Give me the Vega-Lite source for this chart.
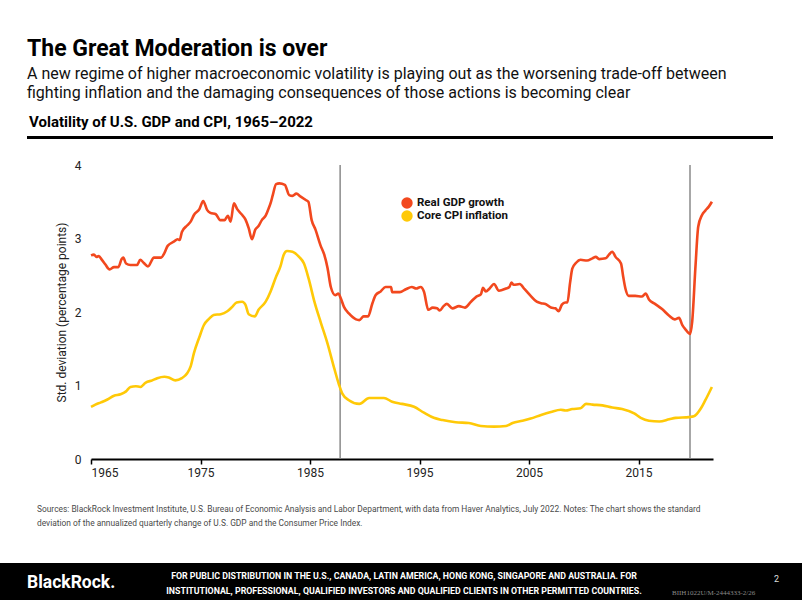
{
  "$schema": "https://vega.github.io/schema/vega-lite/v6.json",
  "background": "white",
  "padding": {"left": 0, "right": 0, "top": 38, "bottom": 0},
  "config": {
    "view": {"stroke": null},
    "font": "Roboto",
    "axis": {"labelFont": "Roboto", "titleFont": "Roboto"},
    "legend": {"labelFont": "Roboto"},
    "title": {"font": "Roboto", "subtitleFont": "Roboto"}
  },
  "title": {
    "text": "The Great Moderation is over",
    "subtitle": ["A new regime of higher macroeconomic volatility is playing out as the worsening trade-off between", "fighting inflation and the damaging consequences of those actions is becoming clear"],
    "anchor": "start",
    "dx": 27,
    "fontSize": 23,
    "fontWeight": "bold",
    "color": "#000",
    "subtitleFontSize": 16,
    "subtitleColor": "#111",
    "subtitleLineHeight": 19,
    "subtitlePadding": 5,
    "offset": 14
  },
  "spacing": 0,
  "vconcat": [
    {
      "spacing": 0,
      "hconcat": [
        {"width": 27, "height": 3, "data": {"values": []}, "mark": "point"},
        {
          "width": 746, "height": 3,
          "view": {"fill": "#000", "stroke": null},
          "data": {"values": []}, "mark": "point",
          "title": {"text": "Volatility of U.S. GDP and CPI, 1965–2022", "anchor": "start", "frame": "group", "dx": 2, "fontSize": 15, "fontWeight": "bold", "color": "#000", "offset": 6}
        }
      ]
    },
    {"width": 1, "height": 20, "data": {"values": []}, "mark": "point"},
    {
      "spacing": 0,
      "hconcat": [
        {"width": 55, "height": 10, "data": {"values": []}, "mark": "point"},
        {
          "width": 622, "height": 294,
          "layer": [
            {
              "data": {"values": [{"event": "Oct 1987", "year": 1987.75}, {"event": "2019", "year": 2019.7}]},
              "mark": {"type": "rule", "color": "#8a8a8a", "strokeWidth": 1.5},
              "encoding": {"x": {"field": "year", "type": "quantitative", "scale": {"domain": [1965, 2021.8], "nice": false, "zero": false}}}
            },
            {
              "data": {"values": [
{"series":"Real GDP growth","year":1965.0,"value":2.77},{"series":"Real GDP growth","year":1965.27,"value":2.78},{"series":"Real GDP growth","year":1965.5,"value":2.75},{"series":"Real GDP growth","year":1965.7,"value":2.76},{"series":"Real GDP growth","year":1966.0,"value":2.71},{"series":"Real GDP growth","year":1966.3,"value":2.65},{"series":"Real GDP growth","year":1966.7,"value":2.58},{"series":"Real GDP growth","year":1967.1,"value":2.61},{"series":"Real GDP growth","year":1967.5,"value":2.61},{"series":"Real GDP growth","year":1967.8,"value":2.72},{"series":"Real GDP growth","year":1967.95,"value":2.74},{"series":"Real GDP growth","year":1968.2,"value":2.66},{"series":"Real GDP growth","year":1968.6,"value":2.64},{"series":"Real GDP growth","year":1969.2,"value":2.64},{"series":"Real GDP growth","year":1969.5,"value":2.71},{"series":"Real GDP growth","year":1969.8,"value":2.67},{"series":"Real GDP growth","year":1970.2,"value":2.62},{"series":"Real GDP growth","year":1970.75,"value":2.74},{"series":"Real GDP growth","year":1971.4,"value":2.74},{"series":"Real GDP growth","year":1971.7,"value":2.80},{"series":"Real GDP growth","year":1972.0,"value":2.90},{"series":"Real GDP growth","year":1972.6,"value":2.96},{"series":"Real GDP growth","year":1972.9,"value":2.99},{"series":"Real GDP growth","year":1973.1,"value":2.98},{"series":"Real GDP growth","year":1973.3,"value":3.09},{"series":"Real GDP growth","year":1973.8,"value":3.18},{"series":"Real GDP growth","year":1974.1,"value":3.23},{"series":"Real GDP growth","year":1974.4,"value":3.32},{"series":"Real GDP growth","year":1974.9,"value":3.40},{"series":"Real GDP growth","year":1975.25,"value":3.51},{"series":"Real GDP growth","year":1975.6,"value":3.39},{"series":"Real GDP growth","year":1975.9,"value":3.35},{"series":"Real GDP growth","year":1976.4,"value":3.33},{"series":"Real GDP growth","year":1976.8,"value":3.25},{"series":"Real GDP growth","year":1977.2,"value":3.25},{"series":"Real GDP growth","year":1977.5,"value":3.31},{"series":"Real GDP growth","year":1977.75,"value":3.23},{"series":"Real GDP growth","year":1978.05,"value":3.48},{"series":"Real GDP growth","year":1978.35,"value":3.40},{"series":"Real GDP growth","year":1978.75,"value":3.33},{"series":"Real GDP growth","year":1979.1,"value":3.26},{"series":"Real GDP growth","year":1979.4,"value":3.14},{"series":"Real GDP growth","year":1979.7,"value":2.99},{"series":"Real GDP growth","year":1980.0,"value":3.12},{"series":"Real GDP growth","year":1980.3,"value":3.17},{"series":"Real GDP growth","year":1980.6,"value":3.25},{"series":"Real GDP growth","year":1980.95,"value":3.31},{"series":"Real GDP growth","year":1981.2,"value":3.40},{"series":"Real GDP growth","year":1981.4,"value":3.48},{"series":"Real GDP growth","year":1981.6,"value":3.59},{"series":"Real GDP growth","year":1981.9,"value":3.74},{"series":"Real GDP growth","year":1982.2,"value":3.75},{"series":"Real GDP growth","year":1982.7,"value":3.73},{"series":"Real GDP growth","year":1983.1,"value":3.59},{"series":"Real GDP growth","year":1983.4,"value":3.58},{"series":"Real GDP growth","year":1983.75,"value":3.61},{"series":"Real GDP growth","year":1984.15,"value":3.57},{"series":"Real GDP growth","year":1984.65,"value":3.52},{"series":"Real GDP growth","year":1984.85,"value":3.50},{"series":"Real GDP growth","year":1985.15,"value":3.25},{"series":"Real GDP growth","year":1985.5,"value":3.12},{"series":"Real GDP growth","year":1985.95,"value":2.91},{"series":"Real GDP growth","year":1986.3,"value":2.78},{"series":"Real GDP growth","year":1986.6,"value":2.60},{"series":"Real GDP growth","year":1986.9,"value":2.34},{"series":"Real GDP growth","year":1987.3,"value":2.23},{"series":"Real GDP growth","year":1987.6,"value":2.25},{"series":"Real GDP growth","year":1987.8,"value":2.19},{"series":"Real GDP growth","year":1988.1,"value":2.07},{"series":"Real GDP growth","year":1988.55,"value":1.98},{"series":"Real GDP growth","year":1989.2,"value":1.90},{"series":"Real GDP growth","year":1989.5,"value":1.89},{"series":"Real GDP growth","year":1989.9,"value":1.94},{"series":"Real GDP growth","year":1990.3,"value":1.94},{"series":"Real GDP growth","year":1990.7,"value":2.12},{"series":"Real GDP growth","year":1991.0,"value":2.23},{"series":"Real GDP growth","year":1991.45,"value":2.28},{"series":"Real GDP growth","year":1991.9,"value":2.34},{"series":"Real GDP growth","year":1992.4,"value":2.34},{"series":"Real GDP growth","year":1992.5,"value":2.27},{"series":"Real GDP growth","year":1993.2,"value":2.27},{"series":"Real GDP growth","year":1993.75,"value":2.31},{"series":"Real GDP growth","year":1994.3,"value":2.34},{"series":"Real GDP growth","year":1994.7,"value":2.32},{"series":"Real GDP growth","year":1995.1,"value":2.34},{"series":"Real GDP growth","year":1995.4,"value":2.28},{"series":"Real GDP growth","year":1995.8,"value":2.03},{"series":"Real GDP growth","year":1996.2,"value":2.06},{"series":"Real GDP growth","year":1996.6,"value":2.05},{"series":"Real GDP growth","year":1996.85,"value":2.02},{"series":"Real GDP growth","year":1997.2,"value":2.08},{"series":"Real GDP growth","year":1997.5,"value":2.11},{"series":"Real GDP growth","year":1998.0,"value":2.05},{"series":"Real GDP growth","year":1998.6,"value":2.08},{"series":"Real GDP growth","year":1999.15,"value":2.06},{"series":"Real GDP growth","year":1999.7,"value":2.14},{"series":"Real GDP growth","year":2000.2,"value":2.21},{"series":"Real GDP growth","year":2000.6,"value":2.24},{"series":"Real GDP growth","year":2000.8,"value":2.33},{"series":"Real GDP growth","year":2001.05,"value":2.28},{"series":"Real GDP growth","year":2001.4,"value":2.32},{"series":"Real GDP growth","year":2001.8,"value":2.38},{"series":"Real GDP growth","year":2002.25,"value":2.29},{"series":"Real GDP growth","year":2002.9,"value":2.32},{"series":"Real GDP growth","year":2003.2,"value":2.34},{"series":"Real GDP growth","year":2003.4,"value":2.40},{"series":"Real GDP growth","year":2003.6,"value":2.37},{"series":"Real GDP growth","year":2004.15,"value":2.38},{"series":"Real GDP growth","year":2004.6,"value":2.31},{"series":"Real GDP growth","year":2005.15,"value":2.22},{"series":"Real GDP growth","year":2005.7,"value":2.14},{"series":"Real GDP growth","year":2006.1,"value":2.12},{"series":"Real GDP growth","year":2006.5,"value":2.11},{"series":"Real GDP growth","year":2007.0,"value":2.06},{"series":"Real GDP growth","year":2007.4,"value":2.05},{"series":"Real GDP growth","year":2007.7,"value":2.01},{"series":"Real GDP growth","year":2008.0,"value":2.10},{"series":"Real GDP growth","year":2008.3,"value":2.13},{"series":"Real GDP growth","year":2008.5,"value":2.13},{"series":"Real GDP growth","year":2008.75,"value":2.40},{"series":"Real GDP growth","year":2008.95,"value":2.59},{"series":"Real GDP growth","year":2009.3,"value":2.67},{"series":"Real GDP growth","year":2009.7,"value":2.71},{"series":"Real GDP growth","year":2010.3,"value":2.70},{"series":"Real GDP growth","year":2010.8,"value":2.73},{"series":"Real GDP growth","year":2011.1,"value":2.75},{"series":"Real GDP growth","year":2011.4,"value":2.72},{"series":"Real GDP growth","year":2012.0,"value":2.73},{"series":"Real GDP growth","year":2012.3,"value":2.78},{"series":"Real GDP growth","year":2012.6,"value":2.82},{"series":"Real GDP growth","year":2012.9,"value":2.75},{"series":"Real GDP growth","year":2013.4,"value":2.66},{"series":"Real GDP growth","year":2013.6,"value":2.48},{"series":"Real GDP growth","year":2013.8,"value":2.32},{"series":"Real GDP growth","year":2014.1,"value":2.22},{"series":"Real GDP growth","year":2014.7,"value":2.22},{"series":"Real GDP growth","year":2015.3,"value":2.21},{"series":"Real GDP growth","year":2015.65,"value":2.25},{"series":"Real GDP growth","year":2015.95,"value":2.17},{"series":"Real GDP growth","year":2016.5,"value":2.11},{"series":"Real GDP growth","year":2017.15,"value":2.04},{"series":"Real GDP growth","year":2017.8,"value":1.95},{"series":"Real GDP growth","year":2018.3,"value":1.90},{"series":"Real GDP growth","year":2018.7,"value":1.92},{"series":"Real GDP growth","year":2019.0,"value":1.82},{"series":"Real GDP growth","year":2019.3,"value":1.76},{"series":"Real GDP growth","year":2019.7,"value":1.70},{"series":"Real GDP growth","year":2019.9,"value":1.87},{"series":"Real GDP growth","year":2020.2,"value":2.62},{"series":"Real GDP growth","year":2020.45,"value":3.16},{"series":"Real GDP growth","year":2020.8,"value":3.32},{"series":"Real GDP growth","year":2021.1,"value":3.38},{"series":"Real GDP growth","year":2021.4,"value":3.43},{"series":"Real GDP growth","year":2021.7,"value":3.50},
{"series":"Core CPI inflation","year":1965.0,"value":0.71},{"series":"Core CPI inflation","year":1965.4,"value":0.74},{"series":"Core CPI inflation","year":1965.9,"value":0.77},{"series":"Core CPI inflation","year":1966.5,"value":0.81},{"series":"Core CPI inflation","year":1967.1,"value":0.86},{"series":"Core CPI inflation","year":1967.7,"value":0.88},{"series":"Core CPI inflation","year":1968.2,"value":0.92},{"series":"Core CPI inflation","year":1968.6,"value":0.98},{"series":"Core CPI inflation","year":1969.1,"value":0.99},{"series":"Core CPI inflation","year":1969.5,"value":0.98},{"series":"Core CPI inflation","year":1970.0,"value":1.04},{"series":"Core CPI inflation","year":1970.6,"value":1.07},{"series":"Core CPI inflation","year":1971.05,"value":1.10},{"series":"Core CPI inflation","year":1971.7,"value":1.12},{"series":"Core CPI inflation","year":1972.1,"value":1.11},{"series":"Core CPI inflation","year":1972.7,"value":1.07},{"series":"Core CPI inflation","year":1973.3,"value":1.10},{"series":"Core CPI inflation","year":1973.8,"value":1.17},{"series":"Core CPI inflation","year":1974.1,"value":1.26},{"series":"Core CPI inflation","year":1974.4,"value":1.44},{"series":"Core CPI inflation","year":1974.9,"value":1.66},{"series":"Core CPI inflation","year":1975.3,"value":1.82},{"series":"Core CPI inflation","year":1975.8,"value":1.91},{"series":"Core CPI inflation","year":1976.2,"value":1.96},{"series":"Core CPI inflation","year":1976.85,"value":1.97},{"series":"Core CPI inflation","year":1977.45,"value":2.01},{"series":"Core CPI inflation","year":1977.9,"value":2.07},{"series":"Core CPI inflation","year":1978.3,"value":2.13},{"series":"Core CPI inflation","year":1978.8,"value":2.14},{"series":"Core CPI inflation","year":1979.1,"value":2.10},{"series":"Core CPI inflation","year":1979.4,"value":1.97},{"series":"Core CPI inflation","year":1979.95,"value":1.94},{"series":"Core CPI inflation","year":1980.3,"value":2.03},{"series":"Core CPI inflation","year":1980.95,"value":2.14},{"series":"Core CPI inflation","year":1981.4,"value":2.28},{"series":"Core CPI inflation","year":1981.9,"value":2.48},{"series":"Core CPI inflation","year":1982.3,"value":2.62},{"series":"Core CPI inflation","year":1982.6,"value":2.78},{"series":"Core CPI inflation","year":1982.9,"value":2.83},{"series":"Core CPI inflation","year":1983.4,"value":2.82},{"series":"Core CPI inflation","year":1984.0,"value":2.75},{"series":"Core CPI inflation","year":1984.45,"value":2.66},{"series":"Core CPI inflation","year":1984.9,"value":2.44},{"series":"Core CPI inflation","year":1985.4,"value":2.14},{"series":"Core CPI inflation","year":1986.0,"value":1.85},{"series":"Core CPI inflation","year":1986.6,"value":1.57},{"series":"Core CPI inflation","year":1987.2,"value":1.24},{"series":"Core CPI inflation","year":1987.65,"value":1.01},{"series":"Core CPI inflation","year":1987.95,"value":0.89},{"series":"Core CPI inflation","year":1988.55,"value":0.80},{"series":"Core CPI inflation","year":1989.5,"value":0.75},{"series":"Core CPI inflation","year":1990.4,"value":0.83},{"series":"Core CPI inflation","year":1991.75,"value":0.83},{"series":"Core CPI inflation","year":1992.5,"value":0.78},{"series":"Core CPI inflation","year":1993.4,"value":0.75},{"series":"Core CPI inflation","year":1994.5,"value":0.71},{"series":"Core CPI inflation","year":1995.4,"value":0.63},{"series":"Core CPI inflation","year":1996.3,"value":0.56},{"series":"Core CPI inflation","year":1997.1,"value":0.53},{"series":"Core CPI inflation","year":1998.3,"value":0.50},{"series":"Core CPI inflation","year":1999.5,"value":0.49},{"series":"Core CPI inflation","year":2000.6,"value":0.45},{"series":"Core CPI inflation","year":2001.8,"value":0.44},{"series":"Core CPI inflation","year":2002.9,"value":0.45},{"series":"Core CPI inflation","year":2003.5,"value":0.49},{"series":"Core CPI inflation","year":2004.4,"value":0.52},{"series":"Core CPI inflation","year":2005.15,"value":0.55},{"series":"Core CPI inflation","year":2006.1,"value":0.60},{"series":"Core CPI inflation","year":2007.0,"value":0.64},{"series":"Core CPI inflation","year":2007.9,"value":0.67},{"series":"Core CPI inflation","year":2008.35,"value":0.66},{"series":"Core CPI inflation","year":2008.95,"value":0.68},{"series":"Core CPI inflation","year":2009.7,"value":0.69},{"series":"Core CPI inflation","year":2010.2,"value":0.75},{"series":"Core CPI inflation","year":2010.8,"value":0.74},{"series":"Core CPI inflation","year":2011.7,"value":0.73},{"series":"Core CPI inflation","year":2012.6,"value":0.70},{"series":"Core CPI inflation","year":2013.5,"value":0.68},{"series":"Core CPI inflation","year":2014.6,"value":0.62},{"series":"Core CPI inflation","year":2015.2,"value":0.56},{"series":"Core CPI inflation","year":2015.95,"value":0.52},{"series":"Core CPI inflation","year":2016.9,"value":0.51},{"series":"Core CPI inflation","year":2017.8,"value":0.54},{"series":"Core CPI inflation","year":2018.4,"value":0.56},{"series":"Core CPI inflation","year":2019.6,"value":0.57},{"series":"Core CPI inflation","year":2020.05,"value":0.58},{"series":"Core CPI inflation","year":2020.7,"value":0.69},{"series":"Core CPI inflation","year":2021.1,"value":0.80},{"series":"Core CPI inflation","year":2021.7,"value":0.98}
              ]},
              "mark": {"type": "line", "strokeWidth": 2.6, "interpolate": "monotone"},
              "encoding": {
                "x": {"field": "year", "type": "quantitative",
                  "scale": {"domain": [1965, 2021.8], "nice": false, "zero": false},
                  "axis": {"values": [1965, 1975, 1985, 1995, 2005, 2015], "format": "d", "title": null, "grid": false, "domainColor": "#000", "domainWidth": 2, "tickColor": "#000", "tickSize": 5, "tickWidth": 1.5, "labelFontSize": 12, "labelColor": "#222", "labelPadding": 3}},
                "y": {"field": "value", "type": "quantitative",
                  "scale": {"domain": [0, 4], "nice": false},
                  "axis": {"values": [0, 1, 2, 3, 4], "domain": false, "ticks": false, "grid": false, "title": "Std. deviation (percentage points)", "titleFontSize": 12, "titleFontWeight": "normal", "titleColor": "#222", "labelFontSize": 12, "labelColor": "#222", "labelPadding": 10, "titlePadding": 6}},
                "color": {"field": "series", "type": "nominal",
                  "scale": {"domain": ["Real GDP growth", "Core CPI inflation"], "range": ["#F2481E", "#FFC907"]},
                  "legend": {"orient": "none", "legendX": 401, "legendY": 61, "title": null, "symbolType": "circle", "symbolSize": 130, "symbolStrokeWidth": 0, "labelFontSize": 11.5, "labelFontWeight": "bold", "labelColor": "#111", "rowPadding": 1, "labelOffset": 4, "padding": 0,
                    "encode": {"symbols": {"update": {"fill": {"scale": "color", "field": "value"}, "fillOpacity": {"value": 1}, "stroke": {"value": "transparent"}}}}}}
              }
            }
          ]
        }
      ]
    },
    {"width": 1, "height": 27, "data": {"values": []}, "mark": "point"},
    {
      "spacing": 0,
      "bounds": "flush",
      "hconcat": [
        {"width": 37, "height": 10, "data": {"values": []}, "mark": "point"},
        {
          "width": 700, "height": 34,
          "data": {"values": []}, "mark": "point",
          "title": {"text": ["Sources: BlackRock Investment Institute, U.S. Bureau of Economic Analysis and Labor Department, with data from Haver Analytics, July 2022. Notes: The chart shows the standard", "deviation of the annualized quarterly change of U.S. GDP and the Consumer Price Index."], "anchor": "start", "frame": "group", "font": "Roboto", "fontSize": 8.4, "fontWeight": "normal", "color": "#4a4a4a", "lineHeight": 13.5, "offset": 2}
        }
      ]
    },
    {
      "spacing": 0,
      "bounds": "flush",
      "hconcat": [
        {"width": 140, "height": 37, "view": {"fill": "#000", "stroke": null}, "data": {"values": []}, "mark": "point",
          "title": {"text": "BlackRock.", "anchor": "start", "frame": "group", "dx": 27, "offset": -28, "fontSize": 17.5, "fontWeight": "bold", "color": "#fff"}},
        {"width": 528, "height": 37, "view": {"fill": "#000", "stroke": null}, "data": {"values": []}, "mark": "point",
          "title": {"text": ["FOR PUBLIC DISTRIBUTION IN THE U.S., CANADA, LATIN AMERICA, HONG KONG, SINGAPORE AND AUSTRALIA. FOR", "INSTITUTIONAL,  PROFESSIONAL, QUALIFIED INVESTORS AND QUALIFIED CLIENTS IN OTHER PERMITTED COUNTRIES."], "anchor": "middle", "frame": "group", "offset": -33, "font": "Roboto", "fontSize": 8.8, "fontWeight": "bold", "lineHeight": 15, "color": "#fff"}},
        {"width": 97, "height": 37, "view": {"fill": "#000", "stroke": null}, "data": {"values": []}, "mark": "point",
          "title": {"text": "BIIH1022U/M-2444333-2/26", "anchor": "start", "frame": "group", "dx": 4, "offset": -33, "font": "Liberation Serif", "fontSize": 7, "fontWeight": "normal", "color": "#8a8a8a"}},
        {"width": 37, "height": 37, "view": {"fill": "#000", "stroke": null}, "data": {"values": []}, "mark": "point",
          "title": {"text": "2", "anchor": "start", "frame": "group", "dx": 9, "offset": -21, "fontSize": 9, "fontWeight": "normal", "color": "#ddd"}}
      ]
    }
  ]
}
